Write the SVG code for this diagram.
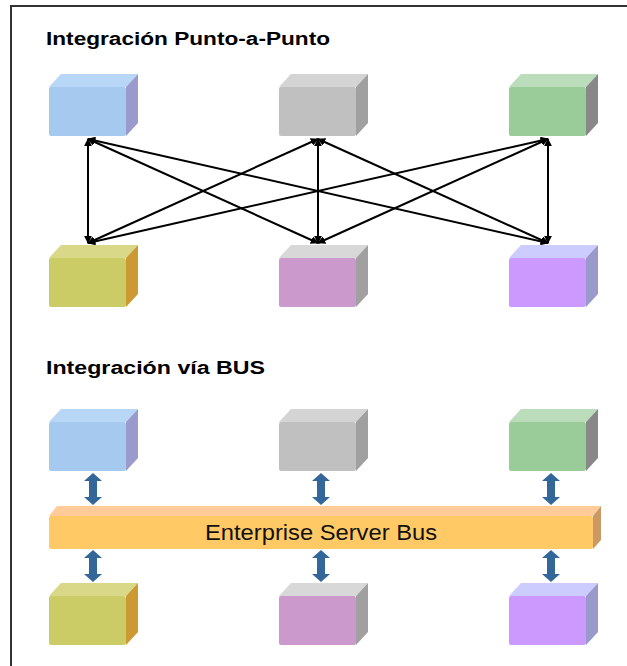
<svg xmlns="http://www.w3.org/2000/svg" width="627" height="666" viewBox="0 0 627 666">
  <style>
    .title { font-family: "Liberation Sans", Arial, sans-serif; font-weight: bold; font-size: 18px; fill: #000; }
    .busText { font-family: "Liberation Sans", Arial, sans-serif; font-size: 22px; fill: #111; }
    .link { stroke: #000; stroke-width: 2; fill: none; marker-start: url(#tip); marker-end: url(#tip); }
    .frame { stroke: #333; stroke-width: 2; fill: none; }
    .dbl { fill: #336699; }
    .blue { --front: #A6C9F0; --top: #B8D6F6; --side: #9A9ACC; }
    .gray { --front: #C0C0C0; --top: #D4D4D4; --side: #A0A0A0; }
    .green { --front: #99CC99; --top: #BCDDBC; --side: #888888; }
    .olive { --front: #CCCC66; --top: #D8D888; --side: #CC9933; }
    .pink { --front: #CC99CC; --top: #D8D8D8; --side: #A0A0A0; }
    .violet { --front: #CC99FF; --top: #CCCCFF; --side: #9999CC; }
  </style>
  <defs>
    <marker id="tip" viewBox="0 0 10 10" refX="9" refY="5" markerWidth="4" markerHeight="4" orient="auto-start-reverse">
      <path d="M0,0 L10,5 L0,10 z" fill="#000"/>
    </marker>
    <!-- 3D block: front face 77x49, depth 12 right / 13 up; colours come from the group's custom properties -->
    <g id="block">
      <polygon style="fill: var(--top)" points="0,13 12,0 89,0 77,13"/>
      <polygon style="fill: var(--side)" points="77,13 89,0 89,49 77,62"/>
      <rect style="fill: var(--front)" x="0" y="13" width="77" height="49" rx="2"/>
    </g>
    <!-- vertical double-headed arrow, 32 tall -->
    <path id="dbl" d="M0,0 L9,8 L4,8 L4,24 L9,24 L0,32 L-9,24 L-4,24 L-4,8 L-9,8 z"/>
  </defs>

  <rect width="627" height="666" fill="#fff"/>
  <path class="frame" d="M11,666 L11,6 L627,6"/>

  <text class="title" x="46" y="45" textLength="284" lengthAdjust="spacingAndGlyphs">Integración Punto-a-Punto</text>
  <text class="title" x="46" y="374" textLength="219" lengthAdjust="spacingAndGlyphs">Integración vía BUS</text>

  <!-- point-to-point links -->
  <g id="links">
    <line class="link" x1="88" y1="139" x2="88" y2="243"/>
    <line class="link" x1="88" y1="139" x2="318" y2="243"/>
    <line class="link" x1="88" y1="139" x2="548" y2="243"/>
    <line class="link" x1="318" y1="139" x2="88" y2="243"/>
    <line class="link" x1="318" y1="139" x2="318" y2="243"/>
    <line class="link" x1="318" y1="139" x2="548" y2="243"/>
    <line class="link" x1="548" y1="139" x2="88" y2="243"/>
    <line class="link" x1="548" y1="139" x2="318" y2="243"/>
    <line class="link" x1="548" y1="139" x2="548" y2="243"/>
  </g>

  <g id="p2p-a" class="blue"><use href="#block" x="49" y="74"/></g>
  <g id="p2p-b" class="gray"><use href="#block" x="279" y="74"/></g>
  <g id="p2p-c" class="green"><use href="#block" x="509" y="74"/></g>
  <g id="p2p-d" class="olive"><use href="#block" x="49" y="245"/></g>
  <g id="p2p-e" class="pink"><use href="#block" x="279" y="245"/></g>
  <g id="p2p-f" class="violet"><use href="#block" x="509" y="245"/></g>

  <!-- bus attachments -->
  <g id="bus-links">
    <use class="dbl" href="#dbl" x="93" y="473"/>
    <use class="dbl" href="#dbl" x="321" y="473"/>
    <use class="dbl" href="#dbl" x="551" y="473"/>
    <use class="dbl" href="#dbl" x="93" y="550"/>
    <use class="dbl" href="#dbl" x="321" y="550"/>
    <use class="dbl" href="#dbl" x="551" y="550"/>
  </g>

  <g id="bus-a" class="blue"><use href="#block" x="49" y="409"/></g>
  <g id="bus-b" class="gray"><use href="#block" x="279" y="409"/></g>
  <g id="bus-c" class="green"><use href="#block" x="509" y="409"/></g>

  <g id="esb">
    <polygon points="49,516 57,506 601,506 593,516" fill="#FFCC99"/>
    <polygon points="593,516 601,506 601,540 593,549" fill="#CC9966"/>
    <rect x="49" y="516" width="544" height="33" rx="2" fill="#FFC966"/>
    <text class="busText" x="321" y="540" text-anchor="middle" textLength="232" lengthAdjust="spacingAndGlyphs">Enterprise Server Bus</text>
  </g>

  <g id="bus-d" class="olive"><use href="#block" x="49" y="583"/></g>
  <g id="bus-e" class="pink"><use href="#block" x="279" y="583"/></g>
  <g id="bus-f" class="violet"><use href="#block" x="509" y="583"/></g>
</svg>
